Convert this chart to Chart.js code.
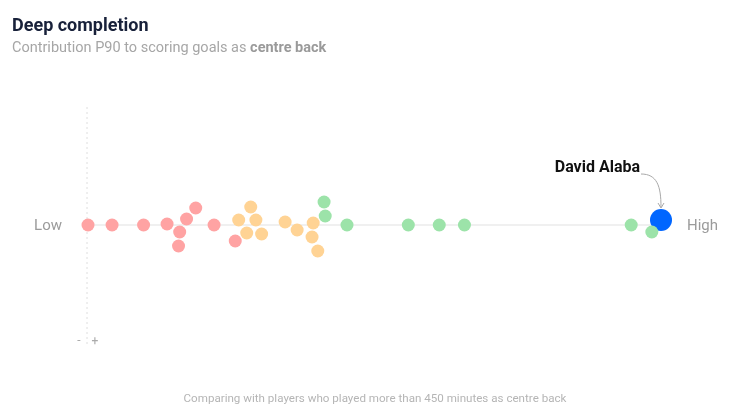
<!DOCTYPE html>
<html>
<head>
<meta charset="utf-8">
<script src="https://cdn.jsdelivr.net/npm/chart.js@4"></script>
<style>
  html, body { margin: 0; padding: 0; background: #fff; }
  #wrap { position: relative; width: 750px; height: 418px; font-family: Roboto, sans-serif; }
  #swarm { position: absolute; left: 0; top: 0; }
  .title { position: absolute; left: 12px; top: 14px; font-size: 18px; font-weight: bold; color: #18213a; }
  .sub { position: absolute; left: 12px; top: 39px; font-size: 14.5px; color: #a6a6a6; }
  .sub b { color: #9a9a9a; }
  .foot { position: absolute; left: 0; width: 750px; top: 391px; text-align: center; font-size: 11.6px; color: #b5b5b5; }
</style>
</head>
<body>
<div id="wrap">
  <canvas id="swarm" width="750" height="418"></canvas>
  <div class="title">Deep completion</div>
  <div class="sub">Contribution P90 to scoring goals as <b>centre back</b></div>
  <div class="foot">Comparing with players who played more than 450 minutes as centre back</div>
</div>
<script>
// Data for the chart (x = position on the Low..High scale, y = swarm offset)
const redX = [0, 4.2, 9.7, 13.8, 17.2, 18.8, 16.0, 15.8, 22.0, 25.7];
const redY = [0, 0, 0, 1, 6, 17, -7, -21, 0, -16];
const orangeX = [26.3, 28.4, 29.3, 27.7, 30.3, 34.4, 36.5, 39.3, 39.1, 40.1];
const orangeY = [5, 18, 5, -8, -9, 3, -5, 2, -12, -26];
const greenX = [41.2, 41.4, 45.2, 55.9, 61.3, 65.7, 94.8, 98.4];
const greenY = [23, 9, 0, 0, 0, 0, 0, -7];
const playerX = [100];
const playerY = [5];
const playerName = "David Alaba";
const scaleLabels = ["Low", "High"];

const toPoints = (xs, ys) => xs.map((x, i) => ({ x: x, y: ys[i] }));

// draws the base line, dotted zero line, labels and the callout arrow
const decorations = {
  id: "decorations",
  beforeDatasetsDraw(chart) {
    const { ctx, chartArea, scales } = chart;
    const x0 = scales.x.getPixelForValue(0);
    const y0 = scales.y.getPixelForValue(0);
    ctx.save();
    ctx.strokeStyle = "#dedede";
    ctx.lineWidth = 1;
    ctx.setLineDash([2, 3]);
    ctx.beginPath();
    ctx.moveTo(x0 - 1, chartArea.top);
    ctx.lineTo(x0 - 1, chartArea.bottom);
    ctx.stroke();
    ctx.setLineDash([]);
    ctx.strokeStyle = "#f0f0f0";
    ctx.lineWidth = 2;
    ctx.beginPath();
    ctx.moveTo(x0, y0);
    ctx.lineTo(scales.x.getPixelForValue(100), y0);
    ctx.stroke();

    ctx.fillStyle = "#9b9b9b";
    ctx.font = "15px Roboto";
    ctx.textBaseline = "middle";
    ctx.textAlign = "right";
    ctx.fillText(scaleLabels[0], 62, y0 + 1);
    ctx.textAlign = "left";
    ctx.fillText(scaleLabels[1], 687, y0 + 1);

    ctx.fillStyle = "#aaaaaa";
    ctx.font = "12px Roboto";
    ctx.textAlign = "center";
    ctx.fillText("-", x0 - 9, chartArea.bottom - 6);
    ctx.fillText("+", x0 + 7, chartArea.bottom - 5);
    ctx.restore();
  },
  afterDatasetsDraw(chart) {
    const { ctx, scales } = chart;
    const px = scales.x.getPixelForValue(playerX[0]);
    const py = scales.y.getPixelForValue(playerY[0]);
    ctx.save();
    ctx.fillStyle = "#111111";
    ctx.font = "bold 16px Roboto";
    ctx.textAlign = "right";
    ctx.textBaseline = "middle";
    ctx.fillText(playerName, px - 21, py - 52);
    ctx.strokeStyle = "#a8a8a8";
    ctx.lineWidth = 1;
    ctx.beginPath();
    ctx.moveTo(px - 20, py - 46);
    ctx.bezierCurveTo(px - 4, py - 46, px, py - 34, px, py - 13);
    ctx.stroke();
    ctx.beginPath();
    ctx.moveTo(px - 3, py - 17);
    ctx.lineTo(px, py - 12);
    ctx.lineTo(px + 3, py - 17);
    ctx.stroke();
    ctx.restore();
  }
};

const ctx = document.getElementById("swarm").getContext("2d");
new Chart(ctx, {
  type: "scatter",
  data: {
    datasets: [
      { data: toPoints(redX, redY), backgroundColor: "#ffa3a3", pointRadius: 6.5 },
      { data: toPoints(orangeX, orangeY), backgroundColor: "#ffd394", pointRadius: 6.5 },
      { data: toPoints(greenX, greenY), backgroundColor: "#9ce3a9", pointRadius: 6.5 },
      { data: toPoints(playerX, playerY), backgroundColor: "#0066ff", pointRadius: 11 },
    ],
  },
  options: {
    responsive: false,
    animation: false,
    events: [],
    clip: false,
    elements: { point: { borderWidth: 0, hoverRadius: 0 } },
    layout: { padding: { left: 88, right: 89, top: 107, bottom: 71 } },
    plugins: {
      legend: { display: false },
      tooltip: { enabled: false },
    },
    scales: {
      x: { type: "linear", min: 0, max: 100, display: false },
      y: { type: "linear", min: -122, max: 118, display: false },
    },
  },
  plugins: [decorations],
});
</script>
</body>
</html>
